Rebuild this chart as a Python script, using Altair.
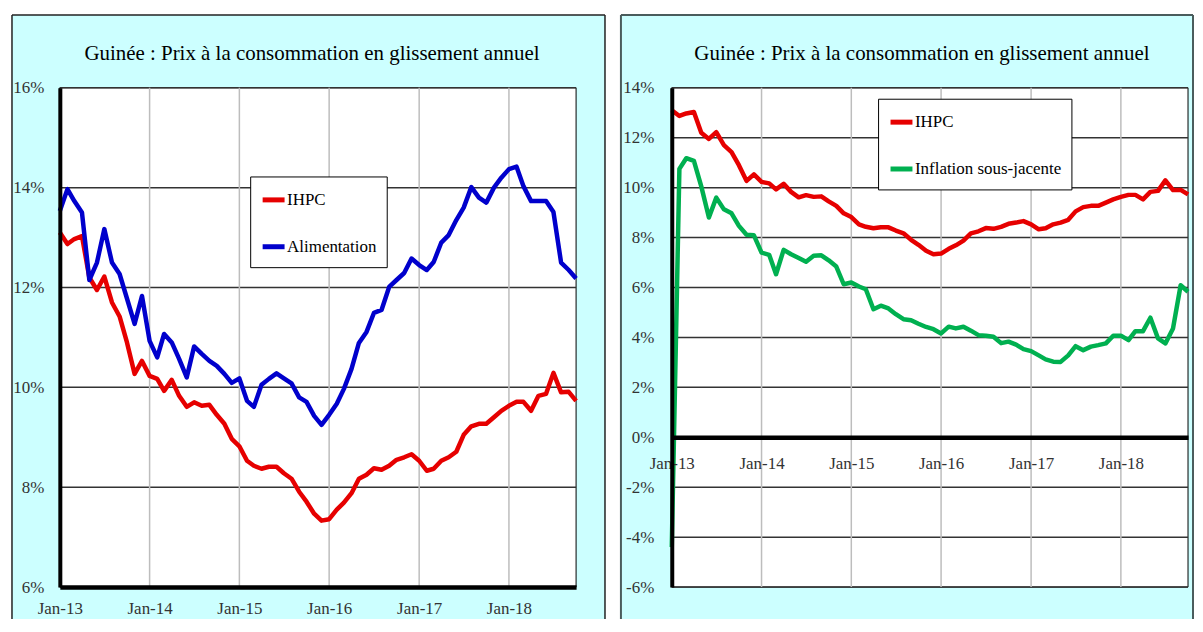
import altair as alt
import pandas as pd

# ---------------- data ----------------
months = pd.date_range("2013-01-01", periods=70, freq="MS")

ihpc = [13.10, 12.87, 12.97, 13.03, 12.20, 11.95, 12.22, 11.70, 11.42, 10.90, 10.27, 10.53,
        10.23, 10.17, 9.93, 10.15, 9.83, 9.61, 9.70, 9.63, 9.65, 9.45, 9.27, 8.97,
        8.82, 8.53, 8.43, 8.37, 8.41, 8.41, 8.28, 8.17, 7.91, 7.71, 7.47, 7.33,
        7.36, 7.55, 7.69, 7.88, 8.17, 8.25, 8.38, 8.35, 8.43, 8.55, 8.60, 8.66,
        8.53, 8.33, 8.37, 8.53, 8.60, 8.71, 9.05, 9.22, 9.27, 9.27, 9.40, 9.53,
        9.63, 9.71, 9.71, 9.53, 9.83, 9.87, 10.29, 9.90, 9.91, 9.73]

alimentation = [13.53, 13.97, 13.73, 13.50, 12.15, 12.50, 13.17, 12.50, 12.27, 11.78, 11.27, 11.83,
                10.93, 10.60, 11.07, 10.90, 10.57, 10.20, 10.82, 10.67, 10.53, 10.43, 10.27, 10.09,
                10.18, 9.73, 9.61, 10.05, 10.17, 10.28, 10.18, 10.08, 9.80, 9.71, 9.43, 9.25,
                9.45, 9.67, 9.97, 10.37, 10.89, 11.11, 11.49, 11.55, 12.01, 12.15, 12.29, 12.58,
                12.45, 12.35, 12.51, 12.90, 13.05, 13.35, 13.60, 14.01, 13.80, 13.70, 14.00, 14.20,
                14.37, 14.42, 14.03, 13.73, 13.73, 13.73, 13.51, 12.50, 12.35, 12.18]

sous_jacente = [-4.40, 10.75, 11.18, 11.07, 10.05, 8.80, 9.60, 9.13, 8.97, 8.47, 8.11, 8.09,
                7.40, 7.31, 6.53, 7.51, 7.33, 7.18, 7.03, 7.27, 7.29, 7.09, 6.84, 6.13,
                6.20, 6.04, 5.93, 5.13, 5.27, 5.16, 4.93, 4.73, 4.69, 4.55, 4.42, 4.33,
                4.16, 4.43, 4.36, 4.43, 4.27, 4.09, 4.07, 4.03, 3.77, 3.83, 3.71, 3.53,
                3.45, 3.28, 3.12, 3.03, 3.02, 3.28, 3.65, 3.49, 3.63, 3.69, 3.76, 4.07,
                4.07, 3.89, 4.25, 4.25, 4.79, 3.96, 3.76, 4.36, 6.09, 5.83]

tick_years = [2013, 2014, 2015, 2016, 2017, 2018]
grid_years = [2014, 2015, 2016, 2017, 2018]
left_levels = [6, 8, 10, 12, 14, 16]
right_levels = [-6, -4, -2, 0, 2, 4, 6, 8, 10, 12, 14]

TITLE = "Guinée : Prix à la consommation en glissement annuel"
FONT = "Liberation Serif"
CYAN = "#CCFFFF"
RED = "#E60000"
BLUE = "#0000CC"
GREEN = "#00B050"
W, H = 518, 501

x_scale = alt.Scale(domain=[alt.DateTime(year=2013, month=1, date=1),
                            alt.DateTime(year=2018, month=10, date=1)])
grid_df = pd.DataFrame({"d": pd.to_datetime([f"{y}-01-01" for y in grid_years])})
dummy = pd.DataFrame({"k": [0]})


def panel(names, series, colors, y_domain, y_levels, box, border_color, border_w,
          legend_xy, x_offset, x_label_pad, y_label_pad, title_dx):
    x0, x1, y0, y1 = box
    rows = []
    for nm, vals in zip(names, series):
        for d, v in zip(months, vals):
            rows.append({"date": d, "value": v, "series": nm})
    df = pd.DataFrame(rows)

    x_axis = alt.Axis(values=[alt.DateTime(year=y, month=1, date=1) for y in tick_years],
                      format="%b-%y", formatType="time", title=None, grid=False,
                      ticks=False, domainColor="black", domainWidth=4.5,
                      labelFont=FONT, labelFontSize=17, labelColor="#333333",
                      labelPadding=x_label_pad, labelFlush=False, labelOverlap=False,
                      labelAngle=0, offset=x_offset, zindex=1)
    y_axis = alt.Axis(values=y_levels, labelExpr="datum.value + '%'", title=None,
                      grid=False, ticks=False, domainColor="black", domainWidth=4,
                      labelFont=FONT, labelFontSize=17, labelColor="#333333",
                      labelPadding=y_label_pad, zindex=1)

    bg = alt.Chart(dummy).mark_rect(fill=CYAN, strokeWidth=0).encode(
        x=alt.value(x0), x2=alt.value(x1), y=alt.value(y0), y2=alt.value(y1))
    b_left = alt.Chart(dummy).mark_rule(color=border_color, strokeWidth=border_w).encode(
        x=alt.value(x0), y=alt.value(y0), y2=alt.value(y1))
    b_top = alt.Chart(dummy).mark_rule(color=border_color, strokeWidth=border_w).encode(
        x=alt.value(x0), x2=alt.value(x1), y=alt.value(y0))
    b_right = alt.Chart(dummy).mark_rule(color=border_color, strokeWidth=border_w).encode(
        x=alt.value(x1), y=alt.value(y0), y2=alt.value(y1))
    plot_bg = alt.Chart(dummy).mark_rect(fill="white", stroke="black", strokeWidth=1).encode(
        x=alt.value(0), x2=alt.value(W), y=alt.value(0), y2=alt.value(H))

    y_scale = alt.Scale(domain=y_domain, nice=False, zero=False)
    hgrid = alt.Chart(pd.DataFrame({"v": y_levels})).mark_rule(
        color="#333333", strokeWidth=1.5).encode(y=alt.Y("v:Q", scale=y_scale, axis=y_axis))
    vgrid = alt.Chart(grid_df).mark_rule(color="#BDBDBD", strokeWidth=1.5).encode(
        x=alt.X("d:T", scale=x_scale, axis=x_axis))

    lines = alt.Chart(df).mark_line(strokeWidth=4.5, strokeJoin="round").encode(
        x=alt.X("date:T", scale=x_scale, axis=x_axis),
        y=alt.Y("value:Q", scale=y_scale, axis=y_axis),
        color=alt.Color("series:N", scale=alt.Scale(domain=names, range=colors),
                        legend=alt.Legend(title=None, orient="none",
                                          legendX=legend_xy[0], legendY=legend_xy[1],
                                          fillColor="white", strokeColor="black",
                                          padding=10, symbolType="stroke", symbolSize=484,
                                          symbolStrokeWidth=5, labelFont=FONT,
                                          labelFontSize=17, labelColor="black",
                                          rowPadding=23, labelOffset=0, zindex=1)),
    )

    return alt.layer(bg, b_left, b_top, b_right, plot_bg, hgrid, vgrid, lines).properties(
        width=W, height=H,
        title=alt.TitleParams(TITLE, font=FONT, fontSize=21, fontWeight="normal",
                              color="black", anchor="middle", frame="group", offset=-67,
                              baseline="alphabetic", dx=title_dx, zindex=1))


left = panel(["IHPC", "Alimentation"], [ihpc, alimentation], [RED, BLUE],
             [6, 16], left_levels, (-48, 547, -73, 533), "#222222", 1.5,
             (191, 89), 0, 14, 16, -6)

right = panel(["IHPC", "Inflation sous-jacente"], [ihpc, sous_jacente], [RED, GREEN],
              [-6, 14], right_levels, (-51, 523, -73, 533), "#4A5C5C", 2,
              (207, 11), -150.3, 18, 18, -8)

chart = alt.hconcat(left, right, spacing=12).resolve_scale(
    x="independent", y="independent", color="independent"
).resolve_legend(color="independent").properties(
    padding={"left": 2, "top": 4, "right": 0, "bottom": 0},
    background="white",
)

chart.save("out.html", embed_options={"renderer": "svg", "actions": False})
